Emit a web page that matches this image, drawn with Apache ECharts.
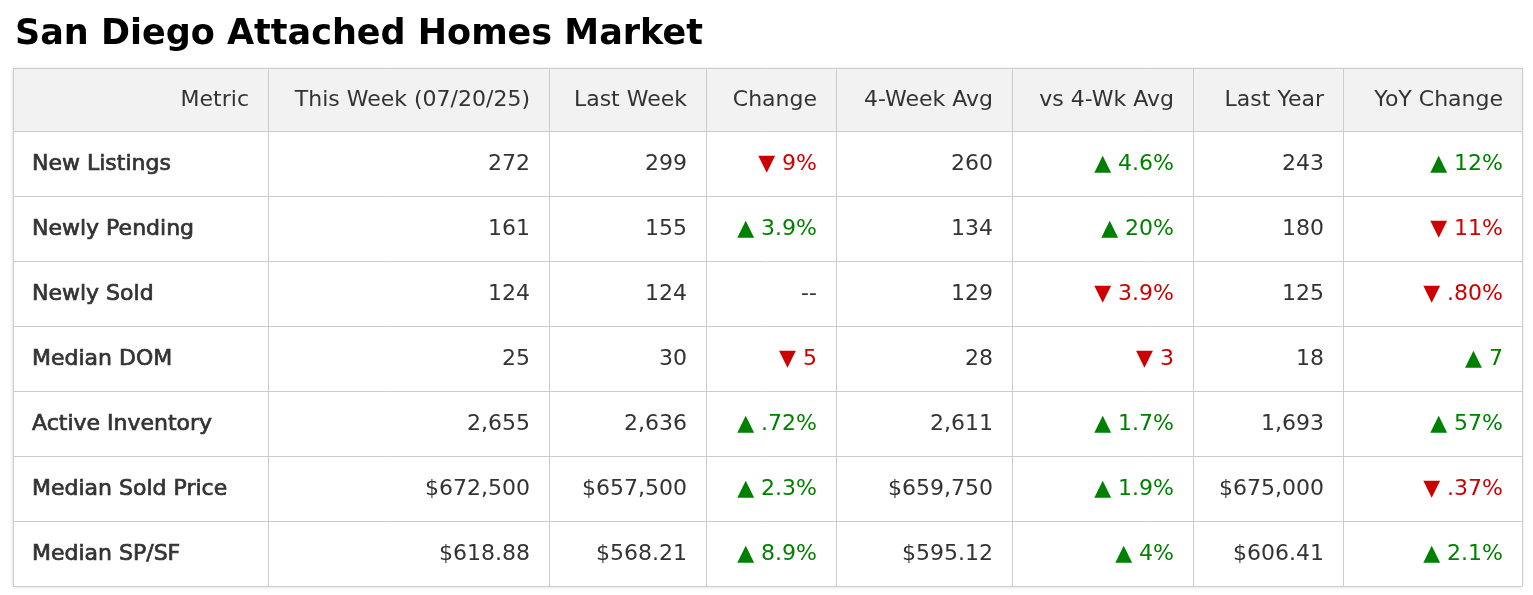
<!DOCTYPE html>
<html>
<head>
<meta charset="utf-8">
<script src="https://cdn.jsdelivr.net/npm/echarts@6/dist/echarts.min.js"></script>
<style>
  html, body { margin: 0; padding: 0; background: #fff; }
  #main { width: 1533px; height: 595px; }
</style>
</head>
<body>
<div id="main"></div>
<script>
// ==================================================
// data
var title = 'San Diego Attached Homes Market';
var headers = ['Metric', 'This Week (07/20/25)', 'Last Week', 'Change', '4-Week Avg', 'vs 4-Wk Avg', 'Last Year', 'YoY Change'];
var metrics = ['New Listings', 'Newly Pending', 'Newly Sold', 'Median DOM', 'Active Inventory', 'Median Sold Price', 'Median SP/SF'];
var thisWeek = ['272', '161', '124', '25', '2,655', '$672,500', '$618.88'];
var lastWeek = ['299', '155', '124', '30', '2,636', '$657,500', '$568.21'];
var change = ['▼ 9%', '▲ 3.9%', '--', '▼ 5', '▲ .72%', '▲ 2.3%', '▲ 8.9%'];
var fourWeekAvg = ['260', '134', '129', '28', '2,611', '$659,750', '$595.12'];
var vsFourWk = ['▲ 4.6%', '▲ 20%', '▼ 3.9%', '▼ 3', '▲ 1.7%', '▲ 1.9%', '▲ 4%'];
var lastYear = ['243', '180', '125', '18', '1,693', '$675,000', '$606.41'];
var yoyChange = ['▲ 12%', '▼ 11%', '▼ .80%', '▲ 7', '▲ 57%', '▼ .37%', '▲ 2.1%'];

// ==================================================
// layout
var colEdges = [13, 268, 549, 706, 836, 1012, 1193, 1343, 1522];
var tableTop = 68, headH = 63, rowH = 65;
var font = '"DejaVu Sans", sans-serif';

function colorOf(s) {
  if (s.indexOf('▲') === 0) return '#008000';
  if (s.indexOf('▼') === 0) return '#cc0000';
  return '#333';
}

var columns = [metrics, thisWeek, lastWeek, change, fourWeekAvg, vsFourWk, lastYear, yoyChange];
var els = [];
var tableBottom = tableTop + headH + rowH * metrics.length;

// shadow + background
els.push({ type: 'rect', shape: { x: colEdges[0], y: tableTop, width: colEdges[8] - colEdges[0], height: tableBottom - tableTop },
  style: { fill: '#fff', shadowBlur: 4, shadowColor: 'rgba(0,0,0,0.15)', shadowOffsetY: 1 } });
els.push({ type: 'rect', shape: { x: colEdges[0], y: tableTop, width: colEdges[8] - colEdges[0], height: headH },
  style: { fill: '#f2f2f2' } });

// grid lines
for (var r = 0; r <= metrics.length + 1; r++) {
  var y = r === 0 ? tableTop : tableTop + headH + rowH * (r - 1);
  els.push({ type: 'line', shape: { x1: colEdges[0], y1: y + 0.5, x2: colEdges[8], y2: y + 0.5 }, style: { stroke: '#cccccc', lineWidth: 1 } });
}
for (var c = 0; c < colEdges.length; c++) {
  els.push({ type: 'line', shape: { x1: colEdges[c] + 0.5, y1: tableTop, x2: colEdges[c] + 0.5, y2: tableBottom }, style: { stroke: '#cccccc', lineWidth: 1 } });
}

// header
headers.forEach(function (h, i) {
  els.push({ type: 'text', x: colEdges[i + 1] - 19, y: tableTop + headH / 2 + 1,
    style: { text: h, fill: '#333', font: '22px ' + font, align: 'right', verticalAlign: 'middle' } });
});

// body
columns.forEach(function (col, ci) {
  col.forEach(function (v, ri) {
    var cy = tableTop + headH + rowH * ri + rowH / 2 + 1;
    if (ci === 0) {
      els.push({ type: 'text', x: colEdges[0] + 19, y: cy,
        style: { text: v, fill: '#333', font: '22px ' + font, align: 'left', verticalAlign: 'middle',
          stroke: '#333', lineWidth: 0.7 } });
    } else {
      els.push({ type: 'text', x: colEdges[ci + 1] - 19, y: cy,
        style: { text: v, fill: colorOf(v), font: '22px ' + font, align: 'right', verticalAlign: 'middle' } });
    }
  });
});

var chart = echarts.init(document.getElementById('main'));
chart.setOption({
  title: { text: title, left: 10, top: 12, textStyle: { fontSize: 35, fontWeight: 'bold', color: '#000', fontFamily: font } },
  graphic: { elements: els }
});
</script>
</body>
</html>
